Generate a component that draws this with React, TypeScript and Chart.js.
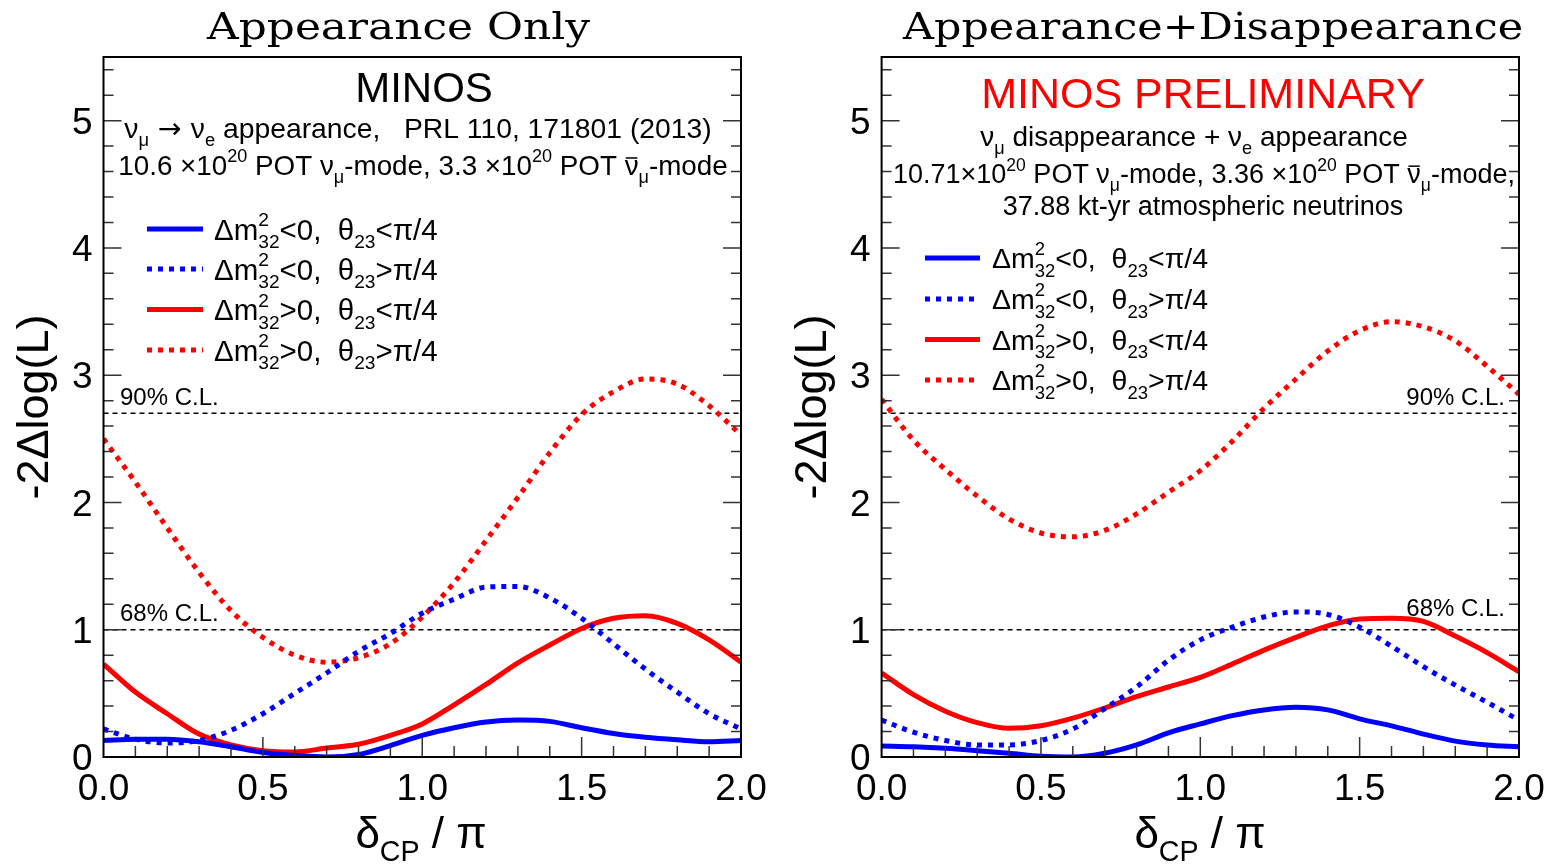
import React, { useEffect, useRef } from 'react';
import { Chart, registerables } from 'chart.js';

Chart.register(...registerables);

// ---------------- data ----------------
const DELTA_CP = [0, 0.1, 0.2, 0.3, 0.4, 0.5, 0.6, 0.7, 0.8, 0.9, 1.0, 1.1, 1.2, 1.3, 1.4, 1.5, 1.6, 1.7, 1.8, 1.9, 2.0];

// Appearance only (left)
const APP_IH_LO = [0.13, 0.14, 0.14, 0.12, 0.08, 0.035, 0.012, 0.0, 0.02, 0.09, 0.17, 0.23, 0.275, 0.29, 0.28, 0.23, 0.185, 0.155, 0.135, 0.12, 0.13];
const APP_IH_HI = [0.22, 0.14, 0.11, 0.13, 0.21, 0.34, 0.5, 0.66, 0.83, 0.97, 1.13, 1.24, 1.335, 1.34, 1.25, 1.09, 0.89, 0.69, 0.51, 0.34, 0.22];
const APP_NH_LO = [0.73, 0.51, 0.34, 0.18, 0.095, 0.05, 0.04, 0.07, 0.1, 0.17, 0.26, 0.41, 0.57, 0.74, 0.88, 1.01, 1.09, 1.11, 1.05, 0.92, 0.745];
const APP_NH_HI = [2.5, 2.16, 1.8, 1.45, 1.15, 0.94, 0.8, 0.745, 0.78, 0.89, 1.1, 1.37, 1.7, 2.04, 2.39, 2.69, 2.87, 2.97, 2.93, 2.76, 2.53];

// Appearance + Disappearance (right)
const COMB_IH_LO = [0.087, 0.08, 0.068, 0.05, 0.03, 0.006, 0.0, 0.03, 0.095, 0.19, 0.26, 0.325, 0.37, 0.39, 0.37, 0.3, 0.245, 0.18, 0.125, 0.095, 0.08];
const COMB_IH_HI = [0.29, 0.195, 0.13, 0.095, 0.095, 0.13, 0.22, 0.38, 0.55, 0.76, 0.92, 1.02, 1.1, 1.14, 1.12, 1.02, 0.87, 0.71, 0.565, 0.43, 0.29];
const COMB_NH_LO = [0.66, 0.49, 0.36, 0.27, 0.225, 0.245, 0.305, 0.385, 0.475, 0.55, 0.625, 0.73, 0.84, 0.94, 1.03, 1.085, 1.09, 1.065, 0.95, 0.82, 0.67];
const COMB_NH_HI = [2.81, 2.49, 2.26, 2.05, 1.87, 1.76, 1.73, 1.78, 1.91, 2.08, 2.25, 2.48, 2.74, 2.97, 3.19, 3.35, 3.42, 3.38, 3.27, 3.07, 2.85];

const CL_LEVELS = [2.7, 1.0];
const CL_LABELS = ['90% C.L.', '68% C.L.'];

const X_TICKS = [0, 0.5, 1.0, 1.5, 2.0];
const X_TICK_LABELS = ['0.0', '0.5', '1.0', '1.5', '2.0'];
const Y_TICKS = [0, 1, 2, 3, 4, 5];
const Y_TICK_LABELS = ['0', '1', '2', '3', '4', '5'];
const X_MIN = 0;
const X_MAX = 2;
const Y_MIN = 0;
const Y_MAX = 5.5;
const X_MINOR_STEP = 0.1;
const Y_MINOR_STEP = 0.2;

const SERIES_STYLE = [
  { color: 'rgb(0,0,255)', dotted: false },
  { color: 'rgb(0,0,255)', dotted: true },
  { color: 'rgb(255,0,0)', dotted: false },
  { color: 'rgb(255,0,0)', dotted: true },
];

// ---------------- text helpers ----------------
type Seg = { t: string; sub?: string; sup?: string; bar?: boolean; fam?: string };
const SANS = '"Liberation Sans", Arial, sans-serif';
const SERIF = '"DejaVu Serif", serif';
const ARROW_FONT = '"DejaVu Sans", sans-serif';
const SCRIPT = 0.65;

function segWidth(ctx: CanvasRenderingContext2D, s: Seg, F: number, fam: string) {
  ctx.font = `${F}px ${s.fam || fam}`;
  const w = ctx.measureText(s.t).width;
  ctx.font = `${F * SCRIPT}px ${fam}`;
  const a = s.sup ? ctx.measureText(s.sup).width : 0;
  const b = s.sub ? ctx.measureText(s.sub).width : 0;
  return w + Math.max(a, b);
}

function drawRich(
  ctx: CanvasRenderingContext2D,
  segs: Seg[],
  x: number,
  y: number,
  F: number,
  fam: string,
  align: 'left' | 'center' | 'right',
  color: string
) {
  const total = segs.reduce((acc, s) => acc + segWidth(ctx, s, F, fam), 0);
  let cx = align === 'center' ? x - total / 2 : align === 'right' ? x - total : x;
  ctx.fillStyle = color;
  ctx.textAlign = 'left';
  ctx.textBaseline = 'alphabetic';
  for (const s of segs) {
    ctx.font = `${F}px ${s.fam || fam}`;
    const w = ctx.measureText(s.t).width;
    ctx.fillText(s.t, cx, y);
    if (s.bar) ctx.fillRect(cx + w * 0.08, y - F * 0.64, w * 0.84, Math.max(1.2, F * 0.055));
    cx += w;
    const sF = F * SCRIPT;
    ctx.font = `${sF}px ${fam}`;
    let ew = 0;
    if (s.sup) {
      ctx.fillText(s.sup, cx, y - F * 0.45);
      ew = Math.max(ew, ctx.measureText(s.sup).width);
    }
    if (s.sub) {
      ctx.fillText(s.sub, cx, y + F * 0.3);
      ew = Math.max(ew, ctx.measureText(s.sub).width);
    }
    cx += ew;
  }
}

const LEGEND_SEGS: Seg[][] = [
  [{ t: 'Δm', sup: '2', sub: '32' }, { t: '<0,  θ', sub: '23' }, { t: '<π/4' }],
  [{ t: 'Δm', sup: '2', sub: '32' }, { t: '<0,  θ', sub: '23' }, { t: '>π/4' }],
  [{ t: 'Δm', sup: '2', sub: '32' }, { t: '>0,  θ', sub: '23' }, { t: '<π/4' }],
  [{ t: 'Δm', sup: '2', sub: '32' }, { t: '>0,  θ', sub: '23' }, { t: '>π/4' }],
];

const X_TITLE: Seg[] = [{ t: 'δ', sub: 'CP' }, { t: ' / π' }];
const Y_TITLE = '-2Δlog(L)';

// ---------------- panel configs ----------------
const PANELS = [
  {
    x0: 0,
    w: 774,
    area: { left: 103.5, right: 741, top: 57, bottom: 757 },
    series: [APP_IH_LO, APP_IH_HI, APP_NH_LO, APP_NH_HI],
    title: { text: 'Appearance Only', cx: 398.5, base: 39, F: 38, width: 383 },
    head: { text: 'MINOS', color: '#000', cx: 424, base: 102, F: 42 },
    lines: [
      {
        segs: [{ t: 'ν', sub: 'μ' }, { t: ' → ', fam: ARROW_FONT }, { t: 'ν', sub: 'e' }, { t: ' appearance,   PRL 110, 171801 (2013)' }] as Seg[],
        cx: 418,
        base: 137.5,
        F: 28.3,
      },
      {
        segs: [
          { t: '10.6 ×10', sup: '20' },
          { t: ' POT ν', sub: 'μ' },
          { t: '-mode, 3.3 ×10', sup: '20' },
          { t: ' POT ' },
          { t: 'ν', bar: true, sub: 'μ' },
          { t: '-mode' },
        ] as Seg[],
        cx: 423,
        base: 175,
        F: 27.8,
      },
    ],
    legend: { x0: 147, x1: 203, tx: 214, rows: [229, 269, 309.5, 350], F: 29.5 },
    cl: { align: 'left' as const, x: 120, offs: [8, 8.5], F: 24 },
    yTitle: { bx: 48, cy: 407, F: 45 },
    xTitle: { cx: 421, base: 848, F: 44 },
  },
  {
    x0: 774,
    w: 775,
    area: { left: 881.6, right: 1519, top: 57, bottom: 757 },
    series: [COMB_IH_LO, COMB_IH_HI, COMB_NH_LO, COMB_NH_HI],
    title: { text: 'Appearance+Disappearance', cx: 1213, base: 39, F: 38, width: 620 },
    head: { text: 'MINOS PRELIMINARY', color: 'rgb(255,0,0)', cx: 1203, base: 107.5, F: 43 },
    lines: [
      { segs: [{ t: 'ν', sub: 'μ' }, { t: ' disappearance + ν', sub: 'e' }, { t: ' appearance' }] as Seg[], cx: 1194, base: 146, F: 28 },
      {
        segs: [
          { t: '10.71×10', sup: '20' },
          { t: ' POT ν', sub: 'μ' },
          { t: '-mode, 3.36 ×10', sup: '20' },
          { t: ' POT ' },
          { t: 'ν', bar: true, sub: 'μ' },
          { t: '-mode,' },
        ] as Seg[],
        cx: 1204,
        base: 182.7,
        F: 27,
      },
      { segs: [{ t: '37.88 kt-yr atmospheric neutrinos' }] as Seg[], cx: 1203, base: 215, F: 27 },
    ],
    legend: { x0: 925, x1: 980, tx: 992, rows: [258, 299, 339.5, 380], F: 28.5 },
    cl: { align: 'right' as const, x: 1505, offs: [8, 14], F: 24 },
    yTitle: { bx: 826, cy: 407, F: 45 },
    xTitle: { cx: 1200, base: 848, F: 44 },
  },
];

type PanelCfg = (typeof PANELS)[number];

function makeDecor(cfg: PanelCfg) {
  const ox = cfg.x0;
  return {
    id: 'decor',
    beforeDatasetsDraw(chart: any) {
      const ctx: CanvasRenderingContext2D = chart.ctx;
      const { left, right } = chart.chartArea;
      const ys = chart.scales.y;
      ctx.save();
      ctx.strokeStyle = '#000';
      ctx.lineWidth = 1.5;
      ctx.setLineDash([5, 4]);
      CL_LEVELS.forEach((lv) => {
        const py = ys.getPixelForValue(lv);
        ctx.beginPath();
        ctx.moveTo(left, py);
        ctx.lineTo(right, py);
        ctx.stroke();
      });
      ctx.restore();
    },
    afterDraw(chart: any) {
      const ctx: CanvasRenderingContext2D = chart.ctx;
      const { left, right, top, bottom } = chart.chartArea;
      const xs = chart.scales.x;
      const ys = chart.scales.y;
      ctx.save();
      ctx.setLineDash([]);

      // ticks
      ctx.strokeStyle = '#333';
      ctx.lineWidth = 1.5;
      ctx.beginPath();
      const nY = Math.round((Y_MAX - Y_MIN) / Y_MINOR_STEP);
      for (let k = 1; k <= nY; k++) {
        const v = Y_MIN + k * Y_MINOR_STEP;
        if (v > Y_MAX + 1e-9) break;
        const major = Y_TICKS.some((t) => Math.abs(t - v) < 1e-6);
        const len = major ? 18 : 10;
        const py = ys.getPixelForValue(v);
        ctx.moveTo(left, py);
        ctx.lineTo(left + len, py);
        ctx.moveTo(right, py);
        ctx.lineTo(right - len, py);
      }
      const nX = Math.round((X_MAX - X_MIN) / X_MINOR_STEP);
      for (let k = 1; k < nX; k++) {
        const v = X_MIN + k * X_MINOR_STEP;
        const major = X_TICKS.some((t) => Math.abs(t - v) < 1e-6);
        const len = major ? 20 : 11;
        const px = xs.getPixelForValue(v);
        ctx.moveTo(px, bottom);
        ctx.lineTo(px, bottom - len);
      }
      ctx.stroke();

      // frame
      ctx.strokeStyle = '#000';
      ctx.lineWidth = 2;
      ctx.strokeRect(left, top, right - left, bottom - top);

      // tick labels
      ctx.fillStyle = '#000';
      ctx.font = `37px ${SANS}`;
      ctx.textBaseline = 'alphabetic';
      ctx.textAlign = 'right';
      Y_TICKS.forEach((v, i) => {
        const py = ys.getPixelForValue(v);
        ctx.fillText(Y_TICK_LABELS[i], left - 11, py + 13.3);
      });
      ctx.textAlign = 'center';
      X_TICKS.forEach((v, i) => {
        const px = xs.getPixelForValue(v);
        ctx.fillText(X_TICK_LABELS[i], px, 800);
      });

      // axis titles
      drawRich(ctx, X_TITLE, cfg.xTitle.cx - ox, cfg.xTitle.base, cfg.xTitle.F, SANS, 'center', '#000');
      ctx.save();
      ctx.translate(cfg.yTitle.bx - ox, cfg.yTitle.cy);
      ctx.rotate(-Math.PI / 2);
      ctx.font = `${cfg.yTitle.F}px ${SANS}`;
      ctx.textAlign = 'center';
      ctx.textBaseline = 'alphabetic';
      ctx.fillStyle = '#000';
      ctx.fillText(Y_TITLE, 0, 0);
      ctx.restore();

      // panel title (serif, stretched to the reference width)
      ctx.save();
      ctx.font = `${cfg.title.F}px ${SERIF}`;
      ctx.textAlign = 'center';
      ctx.fillStyle = '#000';
      const tw = ctx.measureText(cfg.title.text).width;
      const sx = cfg.title.width / tw;
      ctx.translate(cfg.title.cx - ox, cfg.title.base);
      ctx.scale(sx, 1);
      ctx.fillText(cfg.title.text, 0, 0);
      ctx.restore();

      // headline
      ctx.font = `${cfg.head.F}px ${SANS}`;
      ctx.textAlign = 'center';
      ctx.fillStyle = cfg.head.color;
      ctx.fillText(cfg.head.text, cfg.head.cx - ox, cfg.head.base);

      // description lines
      cfg.lines.forEach((ln) => drawRich(ctx, ln.segs, ln.cx - ox, ln.base, ln.F, SANS, 'center', '#000'));

      // legend
      const lg = cfg.legend;
      SERIES_STYLE.forEach((st, i) => {
        const ry = lg.rows[i];
        ctx.save();
        ctx.strokeStyle = st.color;
        ctx.lineWidth = 5;
        ctx.lineCap = 'butt';
        ctx.setLineDash(st.dotted ? [5, 6] : []);
        ctx.beginPath();
        ctx.moveTo(lg.x0 - ox, ry);
        ctx.lineTo(lg.x1 - ox, ry);
        ctx.stroke();
        ctx.restore();
        drawRich(ctx, LEGEND_SEGS[i], lg.tx - ox, ry + 0.36 * lg.F, lg.F, SANS, 'left', '#000');
      });

      // CL labels
      ctx.font = `${cfg.cl.F}px ${SANS}`;
      ctx.fillStyle = '#000';
      ctx.textAlign = cfg.cl.align;
      CL_LEVELS.forEach((lv, i) => {
        const py = ys.getPixelForValue(lv);
        ctx.fillText(CL_LABELS[i], cfg.cl.x - ox, py - cfg.cl.offs[i]);
      });

      ctx.restore();
    },
  };
}

function Panel({ cfg }: { cfg: PanelCfg }) {
  const ref = useRef<HTMLCanvasElement>(null);
  useEffect(() => {
    if (!ref.current) return;
    const a = cfg.area;
    const chart = new Chart(ref.current, {
      type: 'line',
      data: {
        datasets: cfg.series.map((vals, i) => ({
          data: DELTA_CP.map((x, j) => ({ x, y: vals[j] })),
          borderColor: SERIES_STYLE[i].color,
          backgroundColor: SERIES_STYLE[i].color,
          borderWidth: 5,
          borderDash: SERIES_STYLE[i].dotted ? [5, 6] : [],
          borderCapStyle: 'butt',
          pointRadius: 0,
          fill: false,
          cubicInterpolationMode: 'monotone',
          clip: 0,
        })),
      },
      options: {
        responsive: false,
        animation: false,
        devicePixelRatio: 1,
        events: [],
        layout: {
          padding: {
            left: a.left - cfg.x0,
            right: cfg.x0 + cfg.w - a.right,
            top: a.top,
            bottom: 866 - a.bottom,
          },
        },
        scales: {
          x: { type: 'linear', min: X_MIN, max: X_MAX, display: false },
          y: { type: 'linear', min: Y_MIN, max: Y_MAX, display: false },
        },
        plugins: { legend: { display: false }, tooltip: { enabled: false }, title: { display: false } },
      } as any,
      plugins: [makeDecor(cfg) as any],
    });
    return () => chart.destroy();
  }, [cfg]);
  return (
    <canvas
      ref={ref}
      width={cfg.w}
      height={866}
      style={{ position: 'absolute', left: cfg.x0, top: 0, width: cfg.w, height: 866 }}
    />
  );
}

export default function App() {
  return (
    <div style={{ position: 'absolute', left: 0, top: 0, width: 1549, height: 866, background: '#fff', overflow: 'hidden' }}>
      {PANELS.map((p, i) => (
        <Panel key={i} cfg={p} />
      ))}
    </div>
  );
}
